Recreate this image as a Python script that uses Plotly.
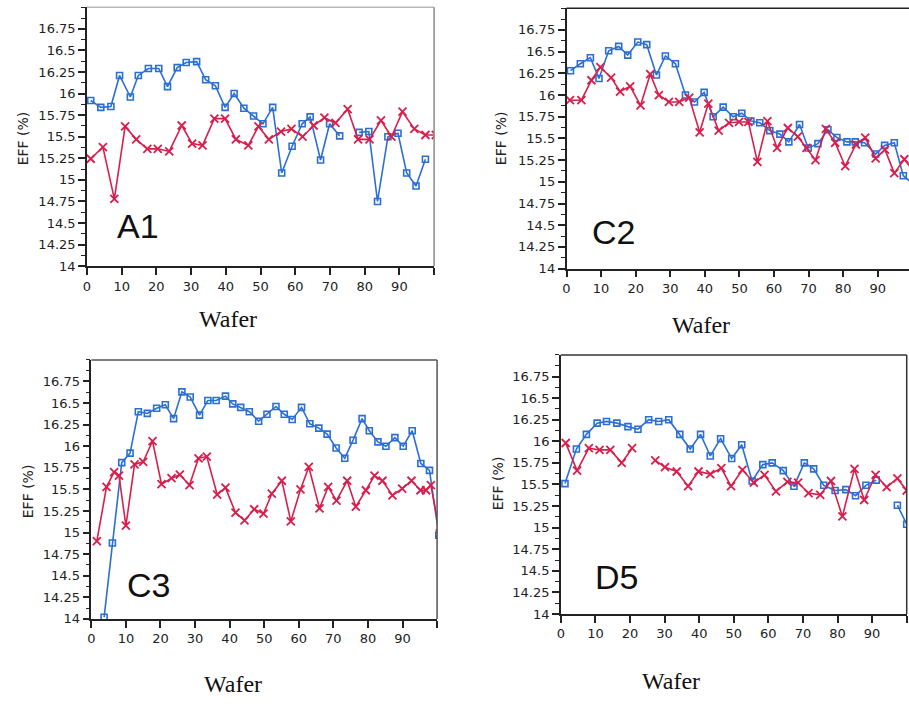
import plotly.graph_objects as go

# ---------------- data ----------------
panel_names = ["A1", "C2", "C3", "D5"]

a1_blue_x = [1.1, 4, 6.9, 9.4, 12.5, 14.8, 17.7, 20.7, 23.2, 26, 28.6, 31.6, 34.2, 37, 39.8, 42.4, 45.2, 48, 50.7, 53.5, 56.1, 59.1, 62, 64.3, 67.3, 69.9, 72.8, None, 78.4, 81.2, 83.7, 86.7, 89.6, 92.1, 94.8, 97.5]
a1_blue_y = [15.92, 15.84, 15.85, 16.21, 15.96, 16.21, 16.29, 16.29, 16.08, 16.30, 16.36, 16.37, 16.16, 16.09, 15.84, 16.0, 15.83, 15.74, 15.65, 15.84, 15.08, 15.39, 15.65, 15.73, 15.23, 15.65, 15.51, None, 15.55, 15.56, 14.75, 15.50, 15.54, 15.08, 14.93, 15.24]
a1_red_x = [1.1, 4.6, 7.9, 11, 14.2, 17.4, 20.4, 23.7, 27.3, 30.3, 33.3, 36.7, 39.8, 42.9, 46.5, 49.4, 52.4, 55.9, 58.9, 62.1, 65.3, 68.4, 71.6, 75.1, 78.1, 81.4, 84.7, 87.7, 90.9, 94.3, 97.5, 100.5]
a1_red_y = [15.245, 15.38, 14.78, 15.62, 15.47, 15.36, 15.36, 15.33, 15.63, 15.42, 15.40, 15.71, 15.71, 15.47, 15.40, 15.62, 15.47, 15.56, 15.59, 15.50, 15.63, 15.72, 15.66, 15.82, 15.47, 15.47, 15.69, 15.50, 15.79, 15.59, 15.52, 15.52]

c2_blue_x = [1.15, 4, 6.9, 9.4, 12.2, 15.1, 17.7, 20.6, 23.2, 26, 28.6, 31.5, 34.4, 37, 39.8, 42.4, 45.3, 48.2, 50.7, 53.3, 55.9, 58.8, 61.7, 64.3, 67.4, 69.9, 72.7, 75.6, 78.2, 81.1, 83.5, 86.2, 89.4, 92, 94.8, 97.4, 100.2]
c2_blue_y = [16.28, 16.36, 16.43, 16.19, 16.51, 16.56, 16.46, 16.61, 16.58, 16.23, 16.45, 16.36, 16.0, 15.92, 16.03, 15.75, 15.86, 15.75, 15.79, 15.70, 15.68, 15.59, 15.55, 15.46, 15.66, 15.39, 15.44, 15.60, 15.51, 15.46, 15.46, 15.45, 15.32, 15.42, 15.45, 15.07, 14.98]
c2_red_x = [1, 4.3, 7.2, 9.8, 12.9, 15.5, 18.4, 21.4, 24.2, 26.7, 29.6, 32.6, 35.5, 38.5, 41, 44, 47, 49.9, 52.6, 55.2, 58.1, 60.9, 64, 66.9, 69.4, 72, 75, 77.7, 80.6, 83.7, 86.4, 89.4, 92.1, 94.8, 97.7, 100.4]
c2_red_y = [15.94, 15.94, 16.17, 16.32, 16.20, 16.04, 16.10, 15.88, 16.24, 16.0, 15.92, 15.92, 15.97, 15.57, 15.90, 15.59, 15.68, 15.69, 15.69, 15.23, 15.70, 15.39, 15.62, 15.52, 15.39, 15.25, 15.61, 15.45, 15.18, 15.43, 15.51, 15.27, 15.37, 15.10, 15.26, 15.12]

c3_blue_x = [3.7, 6.1, 8.8, 11.2, 13.6, 16.2, 18.9, 21.4, 23.8, 26.2, 28.6, 31.3, 33.7, 36.1, 38.8, 40.9, 43.2, 45.7, 48.4, 50.8, 53.4, 55.8, 58.1, 60.8, 63.2, 65.8, 68.2, 70.8, 73.3, 75.7, 78.3, 80.4, 82.9, 85.2, 87.8, 90.2, 92.8, 95.3, 97.8, 100.5]
c3_blue_y = [14.02, 14.88, 15.81, 15.92, 16.40, 16.38, 16.44, 16.48, 16.32, 16.63, 16.57, 16.36, 16.53, 16.53, 16.58, 16.49, 16.45, 16.40, 16.29, 16.37, 16.46, 16.37, 16.31, 16.45, 16.26, 16.21, 16.14, 15.98, 15.86, 16.07, 16.32, 16.18, 16.05, 16.0, 16.10, 16.0, 16.18, 15.80, 15.72, 14.97]
c3_red_x = [1.6, 4.4, 6.6, 8.0, 10, 12.5, 15, 17.7, 20.3, 23.2, 25.6, 28.4, 31, 33.4, 36.4, 38.8, 41.7, 44.3, 47.1, 49.8, 52.2, 55.1, 57.7, 60.5, 62.9, 66, 68.5, 70.9, 74, 76.5, 79.4, 81.9, 84.2, 87.1, 89.9, 92.6, 95.2, 96.8, 98.2, 100.8]
c3_red_y = [14.90, 15.53, 15.70, 15.66, 15.08, 15.79, 15.82, 16.06, 15.56, 15.63, 15.67, 15.55, 15.86, 15.88, 15.44, 15.52, 15.23, 15.14, 15.27, 15.22, 15.45, 15.60, 15.13, 15.50, 15.76, 15.28, 15.53, 15.37, 15.60, 15.30, 15.49, 15.66, 15.60, 15.43, 15.51, 15.60, 15.49, 15.49, 15.55, 14.99]

d5_blue_x = [1.2, 4.5, 7.4, 10.5, 13.2, 16.2, 19.4, 22.3, 25.4, 28.3, 31.2, 34.4, 37.4, 40.4, 43.2, 46.2, 49.4, 52.3, 55.3, 58.4, 61.1, 64.3, 67.4, 70.4, 73.1, 76, 79.3, 82.4, 85.2, 88.2, 91.2, None, 97.3, 100]
d5_blue_y = [15.51, 15.91, 16.08, 16.21, 16.23, 16.21, 16.17, 16.14, 16.25, 16.23, 16.25, 16.08, 15.91, 16.08, 15.83, 16.03, 15.80, 15.96, 15.54, 15.73, 15.75, 15.66, 15.48, 15.75, 15.68, 15.49, 15.43, 15.44, 15.37, 15.49, 15.55, None, 15.26, 15.04]
d5_red_x = [1.4, 4.7, 8.1, 11.2, 14.3, 17.6, 20.6, None, 27.3, 30.1, 33.5, 36.8, 39.8, 43.2, 46.4, 49.2, 52.5, 55.8, 58.9, 62.2, 65.5, 68.6, 71.6, 75, 78.1, 81.4, 84.9, 87.7, 91, 94.2, 97.3, 100]
d5_red_y = [15.98, 15.66, 15.92, 15.90, 15.90, 15.75, 15.92, None, 15.78, 15.70, 15.65, 15.48, 15.65, 15.62, 15.69, 15.48, 15.67, 15.52, 15.61, 15.42, 15.53, 15.52, 15.40, 15.38, 15.54, 15.13, 15.68, 15.32, 15.61, 15.47, 15.57, 15.43]

y_tickvals = [14, 14.25, 14.5, 14.75, 15, 15.25, 15.5, 15.75, 16, 16.25, 16.5, 16.75]
y_ticktext = ["14", "14.25", "14.5", "14.75", "15", "15.25", "15.5", "15.75", "16", "16.25", "16.5", "16.75"]
x_tickvals = [0, 10, 20, 30, 40, 50, 60, 70, 80, 90, 100]
x_ticktext = ["0", "10", "20", "30", "40", "50", "60", "70", "80", "90", ""]

# ---------------- layout geometry ----------------
W, H = 909, 707
BLUE = "#2b6fd4"
RED = "#d81e4c"

panels = [
    dict(name="A1", box=(83.3, 432, 7.3, 269.3), xmax=100,
         bx=a1_blue_x, by=a1_blue_y, rx=a1_red_x, ry=a1_red_y,
         label=(134.5, 229), eff=(19, 140), wafer=(225, 323),
         topc="#b8b8b8", rightc="#8a8a8a"),
    dict(name="C2", box=(565, 909, 8.3, 271.7), xmax=99.05,
         bx=c2_blue_x, by=c2_blue_y, rx=c2_red_x, ry=c2_red_y,
         label=(611.7, 235), eff=(500, 140), wafer=(700, 329),
         topc="#222222", rightc=None),
    dict(name="C3", box=(87.7, 435, 364, 626), xmax=100,
         bx=c3_blue_x, by=c3_blue_y, rx=c3_red_x, ry=c3_red_y,
         label=(145.3, 591.7), eff=(24, 497), wafer=(230, 692),
         topc="#555555", rightc="#555555"),
    dict(name="D5", box=(559.3, 906.7, 359, 621), xmax=100,
         bx=d5_blue_x, by=d5_blue_y, rx=d5_red_x, ry=d5_red_y,
         label=(615, 583.3), eff=(497, 489), wafer=(670, 689),
         topc="#333333", rightc="#333333"),
]

fig = go.Figure()
annotations = []
shapes = []
tickfont = dict(family="DejaVu Sans, sans-serif", size=13, color="#222")

for i, p in enumerate(panels):
    n = "" if i == 0 else str(i + 1)
    xa, ya = "x" + n, "y" + n
    l, r, t, b = p["box"]
    xdom = [l / W, min(r / W, 1.0)]
    ydom = [1 - b / H, 1 - t / H]
    fig.add_trace(go.Scatter(
        x=p["bx"], y=p["by"], xaxis=xa, yaxis=ya, mode="lines+markers",
        line=dict(color=BLUE, width=1.6), connectgaps=False,
        marker=dict(symbol="square-open", size=6, color=BLUE, line=dict(width=1.6)),
        showlegend=False))
    fig.add_trace(go.Scatter(
        x=p["rx"], y=p["ry"], xaxis=xa, yaxis=ya, mode="lines+markers",
        line=dict(color=RED, width=1.6), connectgaps=False,
        marker=dict(symbol="x-thin-open", size=8, color=RED, line=dict(width=1.8, color=RED)),
        showlegend=False))
    fig.layout["xaxis" + n] = dict(
        domain=xdom, range=[0, p["xmax"]], anchor=ya,
        tickmode="array", tickvals=x_tickvals, ticktext=x_ticktext,
        ticks="outside", ticklen=7, tickwidth=1.5, tickcolor="#222",
        showline=True, linecolor="#222", linewidth=1.5,
        showgrid=False, zeroline=False, tickfont=tickfont, fixedrange=True)
    fig.layout["yaxis" + n] = dict(
        domain=ydom, range=[14, 17], anchor=xa,
        tickmode="array", tickvals=y_tickvals, ticktext=y_ticktext,
        ticks="outside", ticklen=7, tickwidth=1.5, tickcolor="#222",
        minor=dict(tickmode="linear", tick0=14, dtick=0.125, ticks="outside",
                   ticklen=4, tickwidth=1.2, tickcolor="#222", showgrid=False),
        showline=True, linecolor="#222", linewidth=1.5,
        showgrid=False, zeroline=False, tickfont=tickfont, fixedrange=True)
    shapes.append(dict(type="line", xref=xa + " domain", yref=ya + " domain",
                       x0=0, x1=1, y0=1, y1=1,
                       line=dict(color=p["topc"], width=1.5)))
    if p["rightc"]:
        shapes.append(dict(type="line", xref=xa + " domain", yref=ya + " domain",
                           x0=1, x1=1, y0=0, y1=1,
                           line=dict(color=p["rightc"], width=1.5)))
    annotations.append(dict(text=p["name"], x=p["label"][0] / W, y=1 - p["label"][1] / H,
                            xref="paper", yref="paper", showarrow=False,
                            xanchor="center", yanchor="middle",
                            font=dict(family="Liberation Sans, Arial, sans-serif", size=34, color="#111")))
    annotations.append(dict(text="EFF (%)", x=p["eff"][0] / W, y=1 - p["eff"][1] / H,
                            xref="paper", yref="paper", showarrow=False, textangle=-90,
                            xanchor="center", yanchor="middle",
                            font=dict(family="DejaVu Sans, sans-serif", size=14, color="#222")))
    annotations.append(dict(text="Wafer", x=p["wafer"][0] / W, y=1 - p["wafer"][1] / H,
                            xref="paper", yref="paper", showarrow=False,
                            xanchor="center", yanchor="middle",
                            font=dict(family="Liberation Serif, Times New Roman, serif", size=24, color="#111")))

fig.update_layout(width=W, height=H, autosize=False,
                  margin=dict(l=0, r=0, t=0, b=0),
                  paper_bgcolor="white", plot_bgcolor="white",
                  annotations=annotations, shapes=shapes)

fig.write_html("out.html", config={"displayModeBar": False},
               post_script="document.body.style.margin='0px';document.body.style.overflow='hidden';")
